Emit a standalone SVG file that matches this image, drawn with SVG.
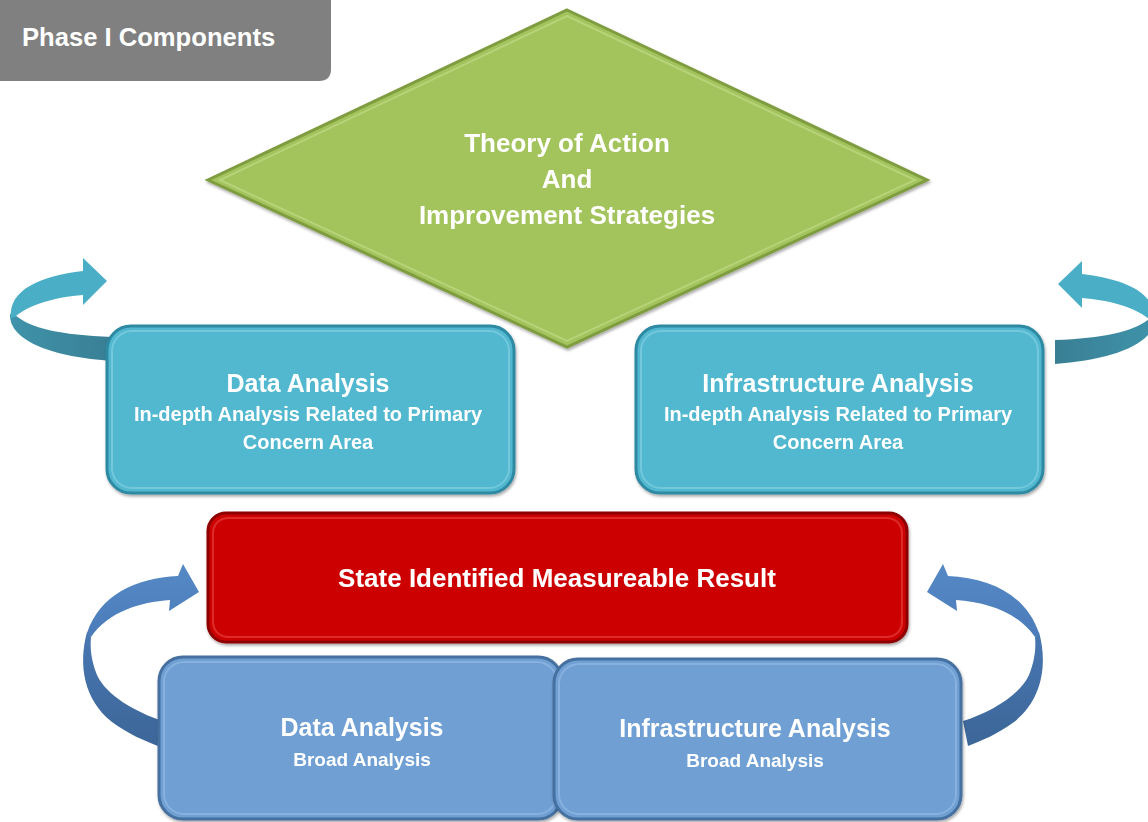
<svg xmlns="http://www.w3.org/2000/svg" width="1148" height="822" viewBox="0 0 1148 822">
  <style>
    text { font-family: "Liberation Sans", Arial, sans-serif; font-weight: bold; fill: #ffffff; text-anchor: middle; }
    .t26 { font-size: 26px; }
    .t25 { font-size: 25px; }
    .t20 { font-size: 20px; }
    .t19 { font-size: 19px; }
    .rim { stroke-width: 3; }
    .hl { fill: none; stroke-width: 2; opacity: 0.55; }
  </style>
  <defs>
    <filter id="shadow" x="-10%" y="-10%" width="120%" height="130%">
      <feDropShadow dx="1" dy="2" stdDeviation="1.6" flood-color="#000" flood-opacity="0.35"/>
    </filter>
    <linearGradient id="gTealDark" x1="0" y1="0" x2="1" y2="0">
      <stop offset="0" stop-color="#3f93aa"/>
      <stop offset="1" stop-color="#397f94"/>
    </linearGradient>
    <linearGradient id="gBlueUp" x1="0" y1="0" x2="0" y2="1">
      <stop offset="0" stop-color="#5589c6"/>
      <stop offset="1" stop-color="#4b7cb9"/>
    </linearGradient>
    <linearGradient id="gBlueLow" x1="0" y1="0" x2="0" y2="1">
      <stop offset="0" stop-color="#4877b2"/>
      <stop offset="1" stop-color="#3c6698"/>
    </linearGradient>
  </defs>

  <rect width="1148" height="822" fill="#ffffff"/>

  <!-- header tab -->
  <g id="header">
    <path d="M0,0 H331 V69 Q331,81 319,81 H0 Z" fill="#808080"/>
    <text x="22" y="46" style="text-anchor:start;font-size:25.6px">Phase I Components</text>
  </g>

  <!-- curved cycle arrows -->
  <g id="connectors">
    <g id="arrow-top-left">
      <path d="M10,314 C9,342 55,357 112,361 L112,337 C60,335 30,328 15,315 Z" fill="url(#gTealDark)"/>
      <path d="M107,281 L83,305 L83,295 C55,297 28,305 15,317 L11,318 C8,290 40,276 83,271 L83,258 Z" fill="#4baec7"/>
    </g>
    <g id="arrow-top-right" transform="translate(1165,3) scale(-1,1)">
      <path d="M10,314 C9,342 55,357 110,361 L110,337 C60,335 30,328 15,315 Z" fill="url(#gTealDark)"/>
      <path d="M107,281 L83,305 L83,295 C55,297 28,305 15,317 L11,318 C8,290 40,276 83,271 L83,258 Z" fill="#4baec7"/>
    </g>
    <g id="arrow-bottom-left">
      <path d="M87,632 C78,665 84,700 112,722 C128,734 145,741 158,746 L163,721 C135,712 106,695 97,675 C91,660 90,648 91,637 Z" fill="url(#gBlueLow)"/>
      <path d="M199,592 L169,611 L170,600 C140,602 108,612 91,637 L87,633 C100,595 135,578 178,576 L183,564 Z" fill="url(#gBlueUp)"/>
    </g>
    <g id="arrow-bottom-right" transform="translate(1126,0) scale(-1,1)">
      <path d="M87,632 C78,665 84,700 112,722 C128,734 145,741 158,746 L163,721 C135,712 106,695 97,675 C91,660 90,648 91,637 Z" fill="url(#gBlueLow)"/>
      <path d="M199,592 L169,611 L170,600 C140,602 108,612 91,637 L87,633 C100,595 135,578 178,576 L183,564 Z" fill="url(#gBlueUp)"/>
    </g>
  </g>

  <!-- decision diamond -->
  <g id="theory-of-action" filter="url(#shadow)">
    <polygon points="567,10 927,180 567,347 208,180" fill="#a3c35d" stroke="#7f9d3f" class="rim"/>
    <polygon points="567,16 915,180 567,341 220,180" class="hl" stroke="#c9e08f"/>
    <text x="567" y="152" class="t26">Theory of Action</text>
    <text x="567" y="188" class="t26">And</text>
    <text x="567" y="224" class="t26">Improvement Strategies</text>
  </g>

  <!-- in-depth analysis boxes -->
  <g id="data-analysis-indepth" filter="url(#shadow)">
    <rect x="107" y="326" width="407" height="167" rx="24" fill="#51b8d0" stroke="#2f8aa3" class="rim"/>
    <rect x="112" y="331" width="397" height="157" rx="20" class="hl" stroke="#8fd6e6"/>
    <text x="308" y="392" class="t25">Data Analysis</text>
    <text x="308" y="421" class="t20">In-depth Analysis Related to Primary</text>
    <text x="308" y="449" class="t20">Concern Area</text>
  </g>
  <g id="infrastructure-analysis-indepth" filter="url(#shadow)">
    <rect x="636" y="326" width="407" height="167" rx="24" fill="#51b8d0" stroke="#2f8aa3" class="rim"/>
    <rect x="641" y="331" width="397" height="157" rx="20" class="hl" stroke="#8fd6e6"/>
    <text x="838" y="392" class="t25">Infrastructure Analysis</text>
    <text x="838" y="421" class="t20">In-depth Analysis Related to Primary</text>
    <text x="838" y="449" class="t20">Concern Area</text>
  </g>

  <!-- measurable result -->
  <g id="measurable-result" filter="url(#shadow)">
    <rect x="208" y="513" width="699" height="129" rx="18" fill="#cc0606" stroke="#8e0202" class="rim"/>
    <rect x="213" y="518" width="689" height="119" rx="15" class="hl" stroke="#ee4a4a"/>
    <text x="557" y="587" class="t26">State Identified Measureable Result</text>
  </g>

  <!-- broad analysis boxes -->
  <g id="data-analysis-broad" filter="url(#shadow)">
    <rect x="159" y="657" width="403" height="162" rx="24" fill="#6f9fd4" stroke="#44709f" class="rim"/>
    <rect x="164" y="662" width="393" height="152" rx="20" class="hl" stroke="#9bc0e8"/>
    <text x="362" y="736" class="t25">Data Analysis</text>
    <text x="362" y="766" class="t19">Broad Analysis</text>
  </g>
  <g id="infrastructure-analysis-broad" filter="url(#shadow)">
    <rect x="554" y="659" width="407" height="160" rx="24" fill="#6f9fd4" stroke="#44709f" class="rim"/>
    <rect x="559" y="664" width="397" height="150" rx="20" class="hl" stroke="#9bc0e8"/>
    <text x="755" y="737" class="t25">Infrastructure Analysis</text>
    <text x="755" y="767" class="t19">Broad Analysis</text>
  </g>
</svg>
